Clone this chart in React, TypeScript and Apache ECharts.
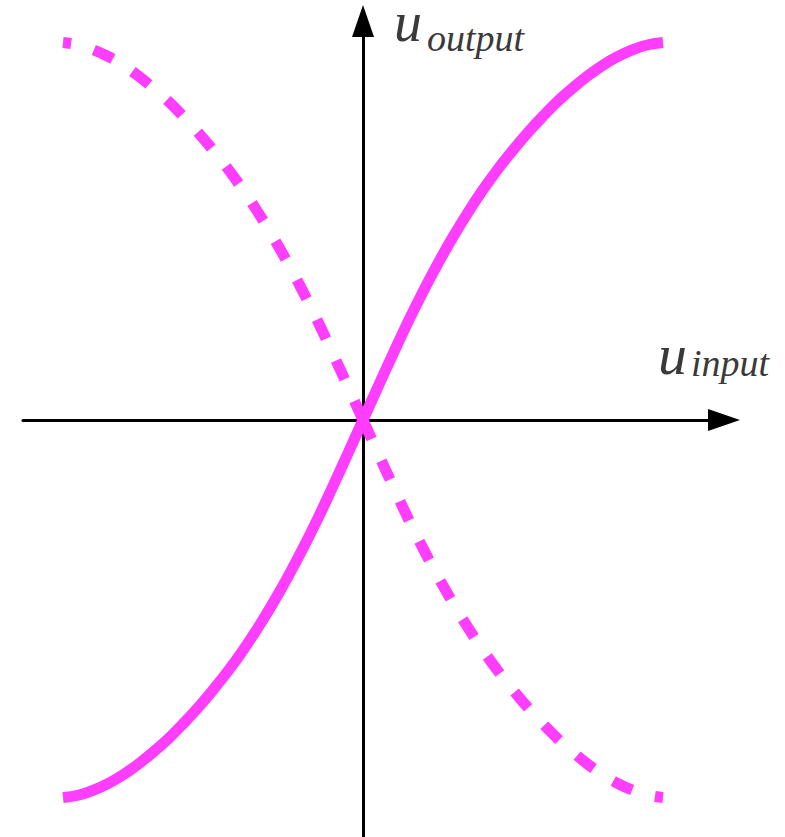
import React, { useEffect, useRef } from "react";
import * as echarts from "echarts";

// Solid curve (u_input -> u_output) in normalised units
const solidX = [
  -1, -0.95, -0.9, -0.85, -0.8, -0.75, -0.7, -0.65, -0.6, -0.55, -0.5, -0.45, -0.4, -0.35, -0.3, -0.25, -0.2, -0.15, -0.1, -0.05,
  0, 0.05, 0.1, 0.15, 0.2, 0.25, 0.3, 0.35, 0.4, 0.45, 0.5, 0.55, 0.6, 0.65, 0.7, 0.75, 0.8, 0.85, 0.9, 0.95, 1,
];
const solidY = [
  -1, -0.994, -0.981, -0.963, -0.94, -0.912, -0.88, -0.845, -0.805, -0.762, -0.715, -0.665, -0.61, -0.55, -0.485, -0.415, -0.34, -0.26, -0.175, -0.088,
  0, 0.088, 0.175, 0.26, 0.34, 0.415, 0.485, 0.55, 0.61, 0.665, 0.715, 0.762, 0.805, 0.845, 0.88, 0.912, 0.94, 0.963, 0.981, 0.994, 1,
];

// Dashed curve, drawn from the centre outwards in two halves
const dashLeftX = [0, -0.05, -0.1, -0.15, -0.2, -0.25, -0.3, -0.35, -0.4, -0.45, -0.5, -0.55, -0.6, -0.65, -0.7, -0.75, -0.8, -0.85, -0.9, -0.95, -1];
const dashLeftY = [0, 0.088, 0.175, 0.26, 0.34, 0.415, 0.485, 0.55, 0.61, 0.665, 0.715, 0.762, 0.805, 0.845, 0.88, 0.912, 0.94, 0.963, 0.981, 0.994, 1];
const dashRightX = [0, 0.05, 0.1, 0.15, 0.2, 0.25, 0.3, 0.35, 0.4, 0.45, 0.5, 0.55, 0.6, 0.65, 0.7, 0.75, 0.8, 0.85, 0.9, 0.95, 1];
const dashRightY = [0, -0.088, -0.175, -0.26, -0.34, -0.415, -0.485, -0.55, -0.61, -0.665, -0.715, -0.762, -0.805, -0.845, -0.88, -0.912, -0.94, -0.963, -0.981, -0.994, -1];

const xLabelMain = "u";
const xLabelSub = "input";
const yLabelMain = "u";
const yLabelSub = "output";

const MAGENTA = "#ff3dff";
const TEXT = "#3a3a3a";
const FONT_FAMILY = "'Liberation Serif', 'Times New Roman', serif";

const zip = (xs: number[], ys: number[]) => xs.map((x, i) => [x, ys[i]]);

const label = (text: string, x: number, y: number, size: number) => ({
  type: "text",
  x,
  y,
  style: {
    text,
    fontFamily: FONT_FAMILY,
    fontStyle: "italic",
    fontSize: size,
    lineHeight: Math.round(size * 0.6),
    fill: TEXT,
    align: "left",
    verticalAlign: "middle",
  },
});

export default function App() {
  const ref = useRef<HTMLDivElement>(null);

  useEffect(() => {
    if (!ref.current) return;
    const chart = echarts.init(ref.current, undefined, { renderer: "svg" });

    const axisCommon = {
      type: "value" as const,
      axisLine: {
        show: true,
        onZero: true,
        symbol: ["none", "triangle"],
        symbolSize: [22, 32],
        lineStyle: { color: "#000", width: 3 },
      },
      axisTick: { show: false },
      axisLabel: { show: false },
      splitLine: { show: false },
    };

    const dashedStyle = {
      color: MAGENTA,
      width: 11,
      type: [21, 23.6] as number[],
      cap: "butt" as const,
    };

    chart.setOption({
      animation: false,
      backgroundColor: "#ffffff",
      grid: { left: 23, right: 61, top: 21, bottom: 0, containLabel: false },
      xAxis: { ...axisCommon, min: -1.13333, max: 1.20333 },
      yAxis: { ...axisCommon, min: -1.10464, max: 1.05695 },
      series: [
        {
          type: "line",
          data: zip(solidX, solidY),
          showSymbol: false,
          smooth: 0.4,
          lineStyle: { color: MAGENTA, width: 11, cap: "butt" },
          z: 3,
        },
        {
          type: "line",
          data: zip(dashLeftX, dashLeftY),
          showSymbol: false,
          smooth: 0.4,
          lineStyle: dashedStyle,
          z: 3,
        },
        {
          type: "line",
          data: zip(dashRightX, dashRightY),
          showSymbol: false,
          smooth: 0.4,
          lineStyle: dashedStyle,
          z: 3,
        },
      ],
      graphic: [
        label(xLabelMain, 658, 354, 58),
        label(xLabelSub, 691, 363, 38),
        label(yLabelMain, 394, 22, 56),
        label(yLabelSub, 427, 38, 38),
      ],
    });

    return () => chart.dispose();
  }, []);

  return (
    <div
      ref={ref}
      style={{ position: "fixed", left: 0, top: 0, width: 785, height: 837, background: "#fff" }}
    />
  );
}
